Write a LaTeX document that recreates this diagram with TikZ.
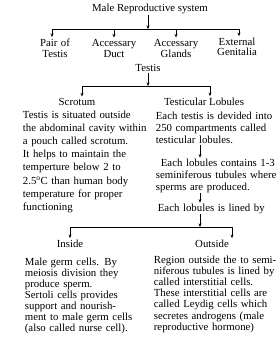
\documentclass[tikz,border=0pt]{standalone}
\usepackage{fontspec}
\setmainfont{Liberation Serif}
\usetikzlibrary{arrows.meta}
\tikzset{
  lbl/.style={inner sep=1pt, anchor=base, font=\fontsize{10.8}{11}\selectfont},
  two/.style={lbl, text width=60pt, align=center},
  para/.style={inner sep=0.5pt, anchor=base west, align=left, text width=130pt,
    font=\fontsize{10.8}{#1}\selectfont},
  arr/.style={-{Stealth[length=3.5pt,width=3pt]}},
}
\begin{document}
\begin{tikzpicture}[x=1pt,y=-1pt,line width=0.8pt]
\useasboundingbox (0,0) rectangle (277,338);
% top level
\node[lbl] (title) at (150,11) {Male Reproductive system};
\node[two] (pair) at (55,46) {Pair of\\Testis};
\node[two] (duct) at (114,46) {Accessary\\Duct};
\node[two] (glands) at (176,46) {Accessary\\Glands};
\node[two,font=\fontsize{10.8}{10.5}\selectfont] (genit) at (237,45) {External\\Genitalia};
% first bar
\coordinate (t1) at (148,29);
\coordinate (b1w) at (52,29);
\coordinate (b1e) at (239,29);
\draw[arr] (t1 |- title.south) -- (t1);
\draw (b1w) -- (b1e);
\draw[arr] (b1w) -- (b1w |- pair.north);
\draw[arr] (duct.north |- b1w) -- (duct.north);
\draw[arr] (glands.north |- b1w) -- (glands.north);
\draw[arr] (b1e) -- (b1e |- genit.north);
% testis
\node[lbl] (testis) at (148,71) {Testis};
\coordinate (t2) at (148,86);
\coordinate (b2w) at (82,86);
\coordinate (b2e) at (210,86);
\draw[arr] (t2 |- testis.south) -- (t2);
\draw (b2w) -- (b2e);
\node[lbl] (scrotum) at (77,105) {Scrotum};
\node[lbl] (lobules) at (204,105) {Testicular Lobules};
\draw[arr] (b2w) -- (b2w |- scrotum.north);
\draw[arr] (b2e) -- (b2e |- lobules.north);
% scrotum text
\node[para=13.2pt] (scrotxt) at (22,118) {Testis is situated outside\\
  the abdominal cavity within\\
  a pouch called scrotum.\\
  It helps to maintain the\\
  temperture below 2 to\\
  2.5\textsuperscript{o}C than human body\\
  temperature for proper\\
  functioning};
% lobules text
\coordinate (ax) at (200,0);
\node[para=12.3pt] (lobtxt1) at (155,119) {Each testis is devided into\\
  250 compartments called\\
  testicular lobules.};
\node[para=12pt] (lobtxt2) at (155,166) {\hspace*{5pt}Each lobules contains 1-3\\
  seminiferous tubules where\\
  sperms are produced.};
\node[para=12pt] (lobtxt3) at (157,211) {Each lobules is lined by};
\draw[arr] (ax |- lobtxt1.south) -- (ax |- lobtxt2.north);
\draw[arr] (ax |- lobtxt2.south) -- (ax |- lobtxt3.north);
% lining
\coordinate (t3) at (200,227);
\coordinate (b3w) at (70,227);
\coordinate (b3e) at (232,227);
\draw[arr] (t3 |- lobtxt3.south) -- (t3);
\draw (b3w) -- (b3e);
\node[lbl] (inside) at (70,247) {Inside};
\node[lbl] (outside) at (212,247) {Outside};
\draw[arr] (b3w) -- (b3w |- inside.north);
\draw[arr] (b3e) -- (b3e |- outside.north);
% inside and outside text
\node[para=11.1pt] (intxt) at (24,265) {Male germ cells. By\\
  meiosis division they\\
  produce sperm.\\
  Sertoli cells provides\\
  support and nourish-\\
  ment to male germ cells\\
  (also called nurse cell).};
\node[para=11.2pt] (outtxt) at (153,263) {Region outside the to semi-\\
  niferous tubules is lined by\\
  called interstitial cells.\\
  These interstitial cells are\\
  called Leydig cells which\\
  secretes androgens (male\\
  reproductive hormone)};
\end{tikzpicture}
\end{document}
